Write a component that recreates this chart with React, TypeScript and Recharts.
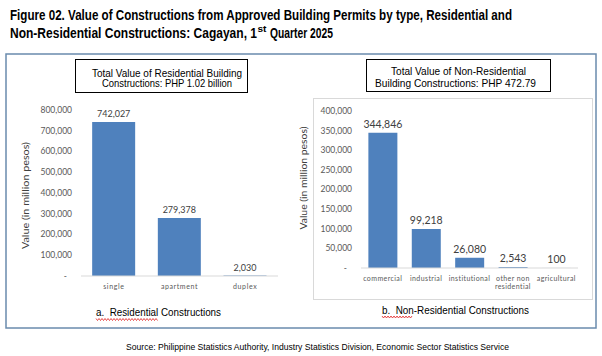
import React from "react";
import { BarChart, Bar, XAxis, YAxis, LabelList } from "recharts";

// ---------- data ----------
const residentialTypes = ["single", "apartment", "duplex"];
const residentialValues = [742027, 279378, 2030];
const residentialTicks = [0, 100000, 200000, 300000, 400000, 500000, 600000, 700000, 800000];

const nonResidentialTypes = ["commercial", "industrial", "institutional", "other non residential", "agricultural"];
const nonResidentialValues = [344846, 99218, 26080, 2543, 100];
const nonResidentialTicks = [0, 50000, 100000, 150000, 200000, 250000, 300000, 350000, 400000];

const titleLine1 = "Figure 02. Value of Constructions from Approved Building Permits by type, Residential and";
const titleLine2a = "Non-Residential Constructions: Cagayan, 1";
const titleLine2sup = "st";
const titleLine2b = "Quarter 2025";
const resBoxLines = ["Total Value of Residential Building", "Constructions: PHP 1.02 billion"];
const nonResBoxLines = ["Total Value of Non-Residential", "Building Constructions: PHP 472.79"];
const resCaption = "a.  Residential Constructions";
const nonResCaption = "b.  Non-Residential Constructions";
const yAxisTitle = "Value (in million pesos)";
const sourceText = "Source: Philippine Statistics Authority, Industry Statistics Division, Economic Sector Statistics Service";

const resData = residentialTypes.map((t, i) => ({ type: t, value: residentialValues[i] }));
const nonResData = nonResidentialTypes.map((t, i) => ({ type: t, value: nonResidentialValues[i] }));

const BAR = "#4f81bd";
const TICK = "#595959";
const TFONT = "Lato, 'Open Sans', sans-serif";
const SFONT = "'Liberation Sans', Arial, sans-serif";
const SX = 0.69;

const fmt = (v: number) => v.toLocaleString("en-US");

const YTick = (props: any) => {
  const { x, y, payload, fontSize } = props;
  const v = payload.value as number;
  return (
    <text x={v === 0 ? x - 5 : x} y={y} dy="0.35em" textAnchor="end" fontSize={fontSize} fill={TICK} fontFamily={TFONT}>
      {v === 0 ? "-" : fmt(v)}
    </text>
  );
};

const wrapWords = (s: string, max: number) => {
  const words = s.split(" ");
  const lines: string[] = [];
  let cur = "";
  words.forEach((w) => {
    if (cur && (cur + " " + w).length > max) {
      lines.push(cur);
      cur = w;
    } else {
      cur = cur ? cur + " " + w : w;
    }
  });
  if (cur) lines.push(cur);
  return lines;
};

const XTick = (props: any) => {
  const { x, y, payload, fontSize, spacing } = props;
  const lines = wrapWords(String(payload.value), 10);
  return (
    <text x={x} y={y} textAnchor="middle" fontSize={fontSize} fill={TICK} fontFamily={TFONT} letterSpacing={spacing}>
      {lines.map((l, i) => (
        <tspan key={i} x={x} dy={i === 0 ? 4.5 : 8.5}>
          {l}
        </tspan>
      ))}
    </text>
  );
};

const squiggle = (x0: number, x1: number, y: number) => {
  const pts: string[] = [];
  let up = true;
  for (let x = x0; x <= x1; x += 1.5) {
    pts.push(`${x},${up ? y - 1 : y + 1}`);
    up = !up;
  }
  return pts.join(" ");
};

const TitleText = ({ x, y, w, size, children }: any) => (
  <text
    transform={`translate(${x} ${y}) scale(${SX} 1)`}
    x={0}
    y={0}
    fontFamily={SFONT}
    fontWeight="bold"
    fontSize={size}
    fill="#000"
    textLength={w / SX}
    lengthAdjust="spacingAndGlyphs"
  >
    {children}
  </text>
);

export default function App() {
  return (
    <div style={{ position: "absolute", left: 0, top: 0, width: 602, height: 356, background: "#fff", overflow: "hidden" }}>
      <svg width={602} height={356} style={{ position: "absolute", left: 0, top: 0 }}>
        {/* title */}
        <TitleText x={10} y={19.5} w={502} size={15}>{titleLine1}</TitleText>
        <TitleText x={10} y={37.5} w={247} size={15}>{titleLine2a}</TitleText>
        <TitleText x={257.5} y={31.5} w={9} size={9}>{titleLine2sup}</TitleText>
        <TitleText x={270} y={37.5} w={63} size={15}>{titleLine2b}</TitleText>

        {/* outer frame */}
        <rect x={6} y={54} width={590} height={274} fill="none" stroke="#6a8bad" strokeWidth={1.5} />

        {/* residential box */}
        <rect x={75.5} y={59.5} width={172} height={33} fill="#fff" stroke="#000" strokeWidth={1} />
        <text x={92} y={76.5} fontFamily={SFONT} fontSize={10.5} fill="#000" textLength={150} lengthAdjust="spacingAndGlyphs">
          {resBoxLines[0]}
        </text>
        <text x={102} y={87.3} fontFamily={SFONT} fontSize={10.5} fill="#000" textLength={130} lengthAdjust="spacingAndGlyphs">
          {resBoxLines[1]}
        </text>

        {/* non-residential inner plot frame */}
        <rect x={313.5} y={98.5} width={279} height={201} fill="none" stroke="#d9d9d9" strokeWidth={1} />

        {/* non-residential box */}
        <rect x={366.5} y={59.5} width={184} height={32} fill="#fff" stroke="#000" strokeWidth={1} />
        <text x={391} y={75} fontFamily={SFONT} fontSize={10.5} fill="#000" textLength={135} lengthAdjust="spacingAndGlyphs">
          {nonResBoxLines[0]}
        </text>
        <text x={375} y={87} fontFamily={SFONT} fontSize={10.5} fill="#000" textLength={161} lengthAdjust="spacingAndGlyphs">
          {nonResBoxLines[1]}
        </text>

        {/* y axis titles */}
        <text
          x={25}
          y={195.5}
          transform="rotate(-90 25 195.5)"
          textAnchor="middle"
          dominantBaseline="central"
          fontFamily={TFONT}
          fontSize={10}
          fill="#404040"
          textLength={107}
          lengthAdjust="spacingAndGlyphs"
        >
          {yAxisTitle}
        </text>
        <text
          x={302.5}
          y={178}
          transform="rotate(-90 302.5 178)"
          textAnchor="middle"
          dominantBaseline="central"
          fontFamily={TFONT}
          fontSize={10}
          fill="#404040"
          textLength={103}
          lengthAdjust="spacingAndGlyphs"
        >
          {yAxisTitle}
        </text>

        {/* captions */}
        <text x={96} y={316} fontFamily={SFONT} fontSize={10.5} fill="#000" textLength={125} lengthAdjust="spacingAndGlyphs" xmlSpace="preserve">
          {resCaption}
        </text>
        <polyline points={squiggle(96, 158, 319.5)} fill="none" stroke="#e02020" strokeWidth={0.8} />
        <text x={382} y={313.5} fontFamily={SFONT} fontSize={10.5} fill="#000" textLength={147} lengthAdjust="spacingAndGlyphs" xmlSpace="preserve">
          {nonResCaption}
        </text>
        <polyline points={squiggle(382, 413, 317)} fill="none" stroke="#e02020" strokeWidth={0.8} />

        {/* source */}
        <text x={126} y={349.5} fontFamily={SFONT} fontSize={9.5} fill="#000" textLength={383} lengthAdjust="spacingAndGlyphs">
          {sourceText}
        </text>
      </svg>

      {/* residential chart */}
      <div style={{ position: "absolute", left: 0, top: 0 }}>
        <BarChart width={300} height={356} data={resData} margin={{ top: 110, right: 22, bottom: 50, left: 0 }} barCategoryGap="17%">
          <XAxis
            dataKey="type"
            height={30}
            axisLine={{ stroke: "#d9d9d9" }}
            tickLine={false}
            interval={0}
            tick={<XTick fontSize={7} spacing={0.6} />}
          />
          <YAxis
            width={81}
            domain={[0, 800000]}
            ticks={residentialTicks}
            axisLine={false}
            tickLine={false}
            tickSize={6}
            tickMargin={3}
            interval={0}
            tick={<YTick fontSize={8.5} />}
          />
          <Bar dataKey="value" fill={BAR} isAnimationActive={false}>
            <LabelList dataKey="value" position="top" offset={5} formatter={(v: any) => fmt(Number(v))} fill="#404040" fontSize={9} fontFamily={TFONT} />
          </Bar>
        </BarChart>
      </div>

      {/* non-residential chart */}
      <div style={{ position: "absolute", left: 300, top: 0 }}>
        <BarChart width={302} height={356} data={nonResData} margin={{ top: 111, right: 24, bottom: 58, left: 0 }} barCategoryGap="17%">
          <XAxis
            dataKey="type"
            height={30}
            axisLine={{ stroke: "#d9d9d9" }}
            tickLine={false}
            interval={0}
            tick={<XTick fontSize={7} spacing={0.4} />}
          />
          <YAxis
            width={61}
            domain={[0, 400000]}
            ticks={nonResidentialTicks}
            axisLine={false}
            tickLine={false}
            tickSize={6}
            tickMargin={3}
            interval={0}
            tick={<YTick fontSize={8.5} />}
          />
          <Bar dataKey="value" fill={BAR} isAnimationActive={false}>
            <LabelList dataKey="value" position="top" offset={5} formatter={(v: any) => fmt(Number(v))} fill="#404040" fontSize={10.5} fontFamily={TFONT} />
          </Bar>
        </BarChart>
      </div>
    </div>
  );
}
